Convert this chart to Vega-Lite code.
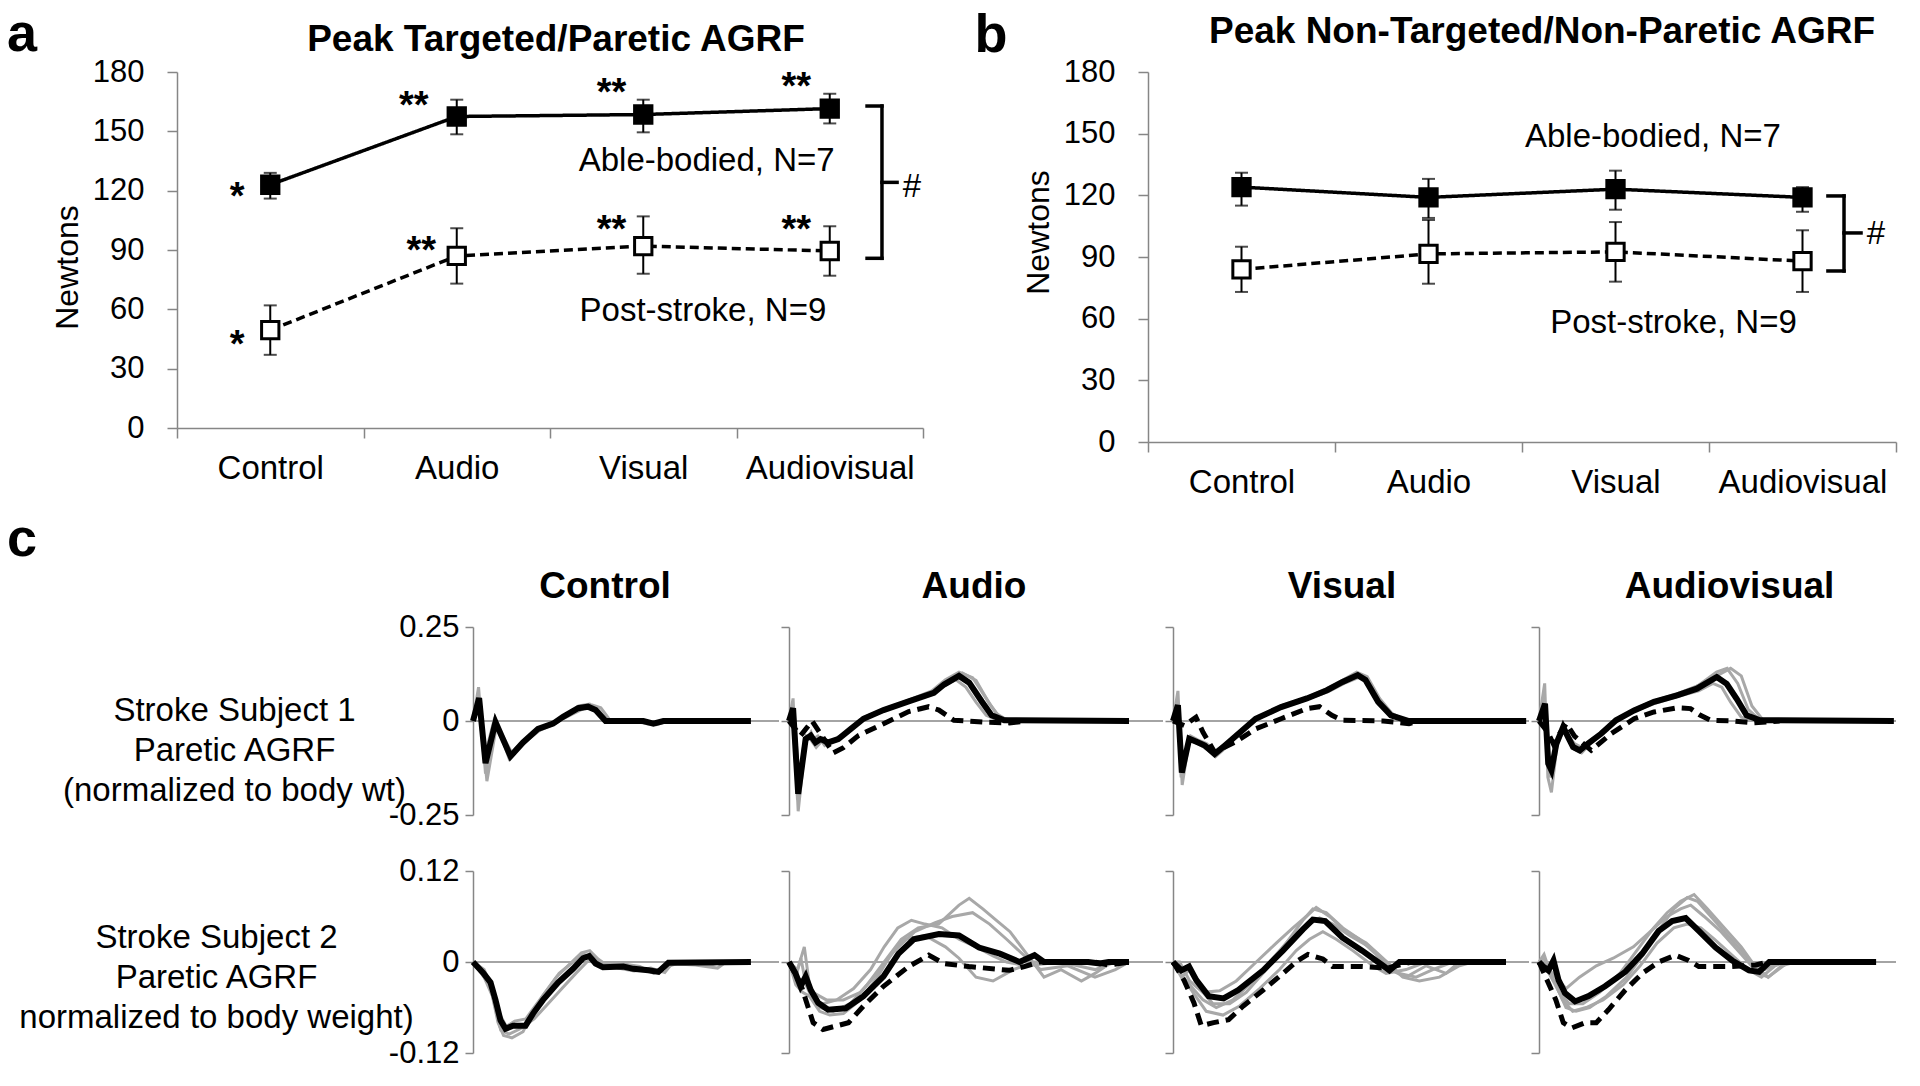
{
"$schema": "https://vega.github.io/schema/vega-lite/v6.json",
"background": "white",
"padding": {"left": 6, "top": 7, "right": 10, "bottom": 4},
"datasets": {
"peakA": [
{"cond":"Control","group":"Able-bodied","mean":123,"lo":116,"hi":129},
{"cond":"Audio","group":"Able-bodied","mean":157.5,"lo":148.5,"hi":166},
{"cond":"Visual","group":"Able-bodied","mean":158.5,"lo":149.5,"hi":166},
{"cond":"Audiovisual","group":"Able-bodied","mean":161.5,"lo":154,"hi":169},
{"cond":"Control","group":"Post-stroke","mean":49.5,"lo":37,"hi":62},
{"cond":"Audio","group":"Post-stroke","mean":87,"lo":73,"hi":101},
{"cond":"Visual","group":"Post-stroke","mean":92,"lo":78,"hi":107},
{"cond":"Audiovisual","group":"Post-stroke","mean":89.5,"lo":77,"hi":102}
],
"peakB": [
{"cond":"Control","group":"Able-bodied","mean":124,"lo":115,"hi":131},
{"cond":"Audio","group":"Able-bodied","mean":119,"lo":109,"hi":128},
{"cond":"Visual","group":"Able-bodied","mean":123,"lo":113,"hi":132},
{"cond":"Audiovisual","group":"Able-bodied","mean":119,"lo":112,"hi":124},
{"cond":"Control","group":"Post-stroke","mean":84,"lo":73,"hi":95},
{"cond":"Audio","group":"Post-stroke","mean":91.5,"lo":77,"hi":108},
{"cond":"Visual","group":"Post-stroke","mean":92.5,"lo":78,"hi":107},
{"cond":"Audiovisual","group":"Post-stroke","mean":88,"lo":73,"hi":103}
],
"annA": [
{"kind":"star","x":0.322,"y":110.5,"label":"*"},
{"kind":"star","x":0.322,"y":36.0,"label":"*"},
{"kind":"star","x":1.27,"y":156.5,"label":"**"},
{"kind":"star","x":2.33,"y":163.2,"label":"**"},
{"kind":"star","x":3.32,"y":166.4,"label":"**"},
{"kind":"star","x":1.31,"y":83.2,"label":"**"},
{"kind":"star","x":2.33,"y":94.1,"label":"**"},
{"kind":"star","x":3.32,"y":94.1,"label":"**"},
{"kind":"lab","x":2.84,"y":129.8,"label":"Able-bodied, N=7"},
{"kind":"lab","x":2.82,"y":54.1,"label":"Post-stroke, N=9"},
{"kind":"hash","x":3.941,"y":117,"label":"#"},
{"kind":"panel","x":-0.912,"y":190.7,"label":"a"},
{"kind":"title","x":2.032,"y":190.6,"label":"Peak Targeted/Paretic AGRF"},
{"kind":"br","x":3.78,"x2":3.78,"y":85.8,"y2":162.8},
{"kind":"br","x":3.70,"x2":3.78,"y":162.8,"y2":162.8},
{"kind":"br","x":3.70,"x2":3.78,"y":85.8,"y2":85.8},
{"kind":"br","x":3.78,"x2":3.861,"y":124.2,"y2":124.2}
],
"annB": [
{"kind":"lab","x":2.70,"y":143.6,"label":"Able-bodied, N=7"},
{"kind":"lab","x":2.81,"y":53.1,"label":"Post-stroke, N=9"},
{"kind":"hash","x":3.893,"y":96.5,"label":"#"},
{"kind":"panel","x":-0.928,"y":189.7,"label":"b"},
{"kind":"title","x":2.107,"y":194.2,"label":"Peak Non-Targeted/Non-Paretic AGRF"},
{"kind":"br","x":3.722,"x2":3.722,"y":83.2,"y2":119.7},
{"kind":"br","x":3.636,"x2":3.722,"y":119.7,"y2":119.7},
{"kind":"br","x":3.636,"x2":3.722,"y":83.2,"y2":83.2},
{"kind":"br","x":3.722,"x2":3.813,"y":101.7,"y2":101.7}
],
"traces": [
{"p":"1C","s":"m","t":0,"v":0},{"p":"1C","s":"m","t":2.2,"v":0.061},{"p":"1C","s":"m","t":4.5,"v":-0.112},{"p":"1C","s":"m","t":8.1,"v":-0.003},{"p":"1C","s":"m","t":13.5,"v":-0.094},{"p":"1C","s":"m","t":18,"v":-0.057},{"p":"1C","s":"m","t":23.4,"v":-0.021},{"p":"1C","s":"m","t":28.8,"v":-0.007},{"p":"1C","s":"m","t":32.4,"v":0.011},{"p":"1C","s":"m","t":37.8,"v":0.034},{"p":"1C","s":"m","t":41.4,"v":0.038},{"p":"1C","s":"m","t":44.1,"v":0.029},{"p":"1C","s":"m","t":47.7,"v":0},{"p":"1C","s":"m","t":61.3,"v":0},{"p":"1C","s":"m","t":64.9,"v":-0.007},{"p":"1C","s":"m","t":68.5,"v":0},{"p":"1C","s":"m","t":100,"v":0},
{"p":"1C","s":"g1","t":0,"v":0},{"p":"1C","s":"g1","t":2,"v":0.09},{"p":"1C","s":"g1","t":4.5,"v":-0.14},{"p":"1C","s":"g1","t":8,"v":0.005},{"p":"1C","s":"g1","t":13,"v":-0.1},{"p":"1C","s":"g1","t":18,"v":-0.06},{"p":"1C","s":"g1","t":24,"v":-0.025},{"p":"1C","s":"g1","t":30,"v":-0.005},{"p":"1C","s":"g1","t":34,"v":0.015},{"p":"1C","s":"g1","t":38,"v":0.04},{"p":"1C","s":"g1","t":42,"v":0.045},{"p":"1C","s":"g1","t":45,"v":0.03},{"p":"1C","s":"g1","t":48,"v":0.003},{"p":"1C","s":"g1","t":55,"v":0},{"p":"1C","s":"g1","t":62,"v":-0.005},{"p":"1C","s":"g1","t":66,"v":-0.01},{"p":"1C","s":"g1","t":70,"v":0},{"p":"1C","s":"g1","t":76,"v":0},
{"p":"1C","s":"g2","t":0,"v":0},{"p":"1C","s":"g2","t":2.5,"v":0.04},{"p":"1C","s":"g2","t":5,"v":-0.16},{"p":"1C","s":"g2","t":8.5,"v":-0.01},{"p":"1C","s":"g2","t":14,"v":-0.085},{"p":"1C","s":"g2","t":19,"v":-0.05},{"p":"1C","s":"g2","t":25,"v":-0.018},{"p":"1C","s":"g2","t":31,"v":0.002},{"p":"1C","s":"g2","t":36,"v":0.025},{"p":"1C","s":"g2","t":40,"v":0.035},{"p":"1C","s":"g2","t":43,"v":0.04},{"p":"1C","s":"g2","t":46,"v":0.02},{"p":"1C","s":"g2","t":49,"v":0},{"p":"1C","s":"g2","t":58,"v":0},{"p":"1C","s":"g2","t":63,"v":-0.008},{"p":"1C","s":"g2","t":68,"v":-0.004},{"p":"1C","s":"g2","t":73,"v":0},
{"p":"1C","s":"g3","t":0,"v":0},{"p":"1C","s":"g3","t":2,"v":0.05},{"p":"1C","s":"g3","t":4,"v":-0.1},{"p":"1C","s":"g3","t":7.5,"v":0},{"p":"1C","s":"g3","t":13,"v":-0.09},{"p":"1C","s":"g3","t":17,"v":-0.06},{"p":"1C","s":"g3","t":22,"v":-0.03},{"p":"1C","s":"g3","t":28,"v":-0.01},{"p":"1C","s":"g3","t":33,"v":0.008},{"p":"1C","s":"g3","t":39,"v":0.03},{"p":"1C","s":"g3","t":43,"v":0.042},{"p":"1C","s":"g3","t":46,"v":0.035},{"p":"1C","s":"g3","t":49,"v":0.005},{"p":"1C","s":"g3","t":57,"v":0},{"p":"1C","s":"g3","t":65,"v":-0.006},{"p":"1C","s":"g3","t":70,"v":0},{"p":"1C","s":"g3","t":75,"v":0},
{"p":"2C","s":"m","t":0,"v":0},{"p":"2C","s":"m","t":3.6,"v":-0.014},{"p":"2C","s":"m","t":6.3,"v":-0.027},{"p":"2C","s":"m","t":8.1,"v":-0.05},{"p":"2C","s":"m","t":9.9,"v":-0.077},{"p":"2C","s":"m","t":11.7,"v":-0.088},{"p":"2C","s":"m","t":14.4,"v":-0.084},{"p":"2C","s":"m","t":18.9,"v":-0.084},{"p":"2C","s":"m","t":21.6,"v":-0.068},{"p":"2C","s":"m","t":25.2,"v":-0.05},{"p":"2C","s":"m","t":30.6,"v":-0.027},{"p":"2C","s":"m","t":36,"v":-0.009},{"p":"2C","s":"m","t":39.6,"v":0.005},{"p":"2C","s":"m","t":41.8,"v":0.008},{"p":"2C","s":"m","t":44.1,"v":-0.002},{"p":"2C","s":"m","t":46.8,"v":-0.007},{"p":"2C","s":"m","t":54.1,"v":-0.006},{"p":"2C","s":"m","t":57.7,"v":-0.009},{"p":"2C","s":"m","t":63.1,"v":-0.011},{"p":"2C","s":"m","t":66.7,"v":-0.013},{"p":"2C","s":"m","t":70.3,"v":-0.001},{"p":"2C","s":"m","t":100,"v":0},
{"p":"2C","s":"g1","t":0,"v":0},{"p":"2C","s":"g1","t":4,"v":-0.02},{"p":"2C","s":"g1","t":7,"v":-0.045},{"p":"2C","s":"g1","t":9,"v":-0.08},{"p":"2C","s":"g1","t":11,"v":-0.097},{"p":"2C","s":"g1","t":14,"v":-0.1},{"p":"2C","s":"g1","t":18,"v":-0.092},{"p":"2C","s":"g1","t":21,"v":-0.07},{"p":"2C","s":"g1","t":25,"v":-0.045},{"p":"2C","s":"g1","t":30,"v":-0.02},{"p":"2C","s":"g1","t":35,"v":-0.002},{"p":"2C","s":"g1","t":39,"v":0.012},{"p":"2C","s":"g1","t":42,"v":0.015},{"p":"2C","s":"g1","t":45,"v":0.004},{"p":"2C","s":"g1","t":48,"v":-0.004},{"p":"2C","s":"g1","t":55,"v":-0.004},{"p":"2C","s":"g1","t":60,"v":-0.01},{"p":"2C","s":"g1","t":66,"v":-0.012},{"p":"2C","s":"g1","t":70,"v":-0.002},{"p":"2C","s":"g1","t":80,"v":-0.004},{"p":"2C","s":"g1","t":88,"v":-0.008},{"p":"2C","s":"g1","t":91,"v":0},
{"p":"2C","s":"g2","t":0,"v":0},{"p":"2C","s":"g2","t":4,"v":-0.01},{"p":"2C","s":"g2","t":7,"v":-0.035},{"p":"2C","s":"g2","t":9,"v":-0.065},{"p":"2C","s":"g2","t":12,"v":-0.085},{"p":"2C","s":"g2","t":15,"v":-0.078},{"p":"2C","s":"g2","t":19,"v":-0.075},{"p":"2C","s":"g2","t":22,"v":-0.06},{"p":"2C","s":"g2","t":26,"v":-0.04},{"p":"2C","s":"g2","t":31,"v":-0.015},{"p":"2C","s":"g2","t":36,"v":0},{"p":"2C","s":"g2","t":40,"v":0.01},{"p":"2C","s":"g2","t":43,"v":0.006},{"p":"2C","s":"g2","t":46,"v":-0.005},{"p":"2C","s":"g2","t":52,"v":-0.008},{"p":"2C","s":"g2","t":58,"v":-0.012},{"p":"2C","s":"g2","t":64,"v":-0.008},{"p":"2C","s":"g2","t":69,"v":-0.014},{"p":"2C","s":"g2","t":72,"v":0},{"p":"2C","s":"g2","t":85,"v":-0.005},{"p":"2C","s":"g2","t":89,"v":0},
{"p":"2C","s":"g3","t":0,"v":0},{"p":"2C","s":"g3","t":3,"v":-0.015},{"p":"2C","s":"g3","t":6,"v":-0.03},{"p":"2C","s":"g3","t":8,"v":-0.06},{"p":"2C","s":"g3","t":10,"v":-0.09},{"p":"2C","s":"g3","t":13,"v":-0.095},{"p":"2C","s":"g3","t":17,"v":-0.088},{"p":"2C","s":"g3","t":22,"v":-0.075},{"p":"2C","s":"g3","t":27,"v":-0.055},{"p":"2C","s":"g3","t":32,"v":-0.035},{"p":"2C","s":"g3","t":37,"v":-0.015},{"p":"2C","s":"g3","t":41,"v":0},{"p":"2C","s":"g3","t":44,"v":0.006},{"p":"2C","s":"g3","t":47,"v":-0.003},{"p":"2C","s":"g3","t":53,"v":-0.002},{"p":"2C","s":"g3","t":60,"v":-0.006},{"p":"2C","s":"g3","t":65,"v":-0.015},{"p":"2C","s":"g3","t":70,"v":-0.006},{"p":"2C","s":"g3","t":75,"v":0},
{"p":"1A","s":"m","t":0,"v":0},{"p":"1A","s":"m","t":1.2,"v":0.034},{"p":"1A","s":"m","t":2.7,"v":-0.194},{"p":"1A","s":"m","t":4.9,"v":-0.048},{"p":"1A","s":"m","t":6.4,"v":-0.039},{"p":"1A","s":"m","t":7.8,"v":-0.057},{"p":"1A","s":"m","t":9.3,"v":-0.048},{"p":"1A","s":"m","t":11.5,"v":-0.057},{"p":"1A","s":"m","t":14.5,"v":-0.048},{"p":"1A","s":"m","t":18.2,"v":-0.021},{"p":"1A","s":"m","t":21.9,"v":0.006},{"p":"1A","s":"m","t":27.8,"v":0.029},{"p":"1A","s":"m","t":35.2,"v":0.052},{"p":"1A","s":"m","t":42.6,"v":0.075},{"p":"1A","s":"m","t":45.6,"v":0.097},{"p":"1A","s":"m","t":50,"v":0.12},{"p":"1A","s":"m","t":53,"v":0.102},{"p":"1A","s":"m","t":56.7,"v":0.052},{"p":"1A","s":"m","t":59.6,"v":0.015},{"p":"1A","s":"m","t":63.3,"v":0.002},{"p":"1A","s":"m","t":100,"v":0},
{"p":"1A","s":"d","t":0,"v":0},{"p":"1A","s":"d","t":3.4,"v":-0.039},{"p":"1A","s":"d","t":6.8,"v":0},{"p":"1A","s":"d","t":13,"v":-0.085},{"p":"1A","s":"d","t":16,"v":-0.071},{"p":"1A","s":"d","t":20.4,"v":-0.039},{"p":"1A","s":"d","t":27.8,"v":-0.007},{"p":"1A","s":"d","t":35.2,"v":0.025},{"p":"1A","s":"d","t":41.1,"v":0.038},{"p":"1A","s":"d","t":44.1,"v":0.029},{"p":"1A","s":"d","t":48.5,"v":0.002},{"p":"1A","s":"d","t":57.4,"v":-0.003},{"p":"1A","s":"d","t":64.8,"v":-0.005},{"p":"1A","s":"d","t":70,"v":0},
{"p":"1A","s":"g1","t":0,"v":0},{"p":"1A","s":"g1","t":1.2,"v":0.06},{"p":"1A","s":"g1","t":2.7,"v":-0.24},{"p":"1A","s":"g1","t":4.8,"v":-0.06},{"p":"1A","s":"g1","t":6.5,"v":-0.03},{"p":"1A","s":"g1","t":8,"v":-0.06},{"p":"1A","s":"g1","t":10,"v":-0.045},{"p":"1A","s":"g1","t":12,"v":-0.06},{"p":"1A","s":"g1","t":15,"v":-0.045},{"p":"1A","s":"g1","t":18.5,"v":-0.018},{"p":"1A","s":"g1","t":22,"v":0.01},{"p":"1A","s":"g1","t":28,"v":0.032},{"p":"1A","s":"g1","t":35,"v":0.055},{"p":"1A","s":"g1","t":42,"v":0.08},{"p":"1A","s":"g1","t":46,"v":0.11},{"p":"1A","s":"g1","t":50,"v":0.13},{"p":"1A","s":"g1","t":54,"v":0.115},{"p":"1A","s":"g1","t":58,"v":0.06},{"p":"1A","s":"g1","t":61,"v":0.02},{"p":"1A","s":"g1","t":64,"v":0.003},{"p":"1A","s":"g1","t":70,"v":0},
{"p":"1A","s":"g2","t":0,"v":0},{"p":"1A","s":"g2","t":1.5,"v":0.02},{"p":"1A","s":"g2","t":3,"v":-0.16},{"p":"1A","s":"g2","t":5,"v":-0.04},{"p":"1A","s":"g2","t":6.8,"v":-0.05},{"p":"1A","s":"g2","t":8.5,"v":-0.04},{"p":"1A","s":"g2","t":10.5,"v":-0.065},{"p":"1A","s":"g2","t":13,"v":-0.05},{"p":"1A","s":"g2","t":17,"v":-0.03},{"p":"1A","s":"g2","t":21,"v":0},{"p":"1A","s":"g2","t":27,"v":0.025},{"p":"1A","s":"g2","t":34,"v":0.048},{"p":"1A","s":"g2","t":41,"v":0.07},{"p":"1A","s":"g2","t":45,"v":0.09},{"p":"1A","s":"g2","t":49,"v":0.11},{"p":"1A","s":"g2","t":52,"v":0.09},{"p":"1A","s":"g2","t":55,"v":0.05},{"p":"1A","s":"g2","t":58,"v":0.015},{"p":"1A","s":"g2","t":62,"v":0},{"p":"1A","s":"g2","t":70,"v":0},
{"p":"1A","s":"g3","t":0,"v":0},{"p":"1A","s":"g3","t":1,"v":0.04},{"p":"1A","s":"g3","t":2.5,"v":-0.21},{"p":"1A","s":"g3","t":4.5,"v":-0.05},{"p":"1A","s":"g3","t":6,"v":-0.045},{"p":"1A","s":"g3","t":8,"v":-0.07},{"p":"1A","s":"g3","t":10,"v":-0.05},{"p":"1A","s":"g3","t":12,"v":-0.055},{"p":"1A","s":"g3","t":15.5,"v":-0.04},{"p":"1A","s":"g3","t":19,"v":-0.012},{"p":"1A","s":"g3","t":23,"v":0.012},{"p":"1A","s":"g3","t":29,"v":0.034},{"p":"1A","s":"g3","t":36,"v":0.058},{"p":"1A","s":"g3","t":43,"v":0.078},{"p":"1A","s":"g3","t":47,"v":0.105},{"p":"1A","s":"g3","t":51,"v":0.128},{"p":"1A","s":"g3","t":55,"v":0.108},{"p":"1A","s":"g3","t":59,"v":0.045},{"p":"1A","s":"g3","t":62,"v":0.01},{"p":"1A","s":"g3","t":66,"v":0},{"p":"1A","s":"g3","t":72,"v":0},
{"p":"1V","s":"m","t":0,"v":0},{"p":"1V","s":"m","t":1.4,"v":0.042},{"p":"1V","s":"m","t":2.5,"v":-0.137},{"p":"1V","s":"m","t":4.6,"v":-0.047},{"p":"1V","s":"m","t":6.8,"v":-0.056},{"p":"1V","s":"m","t":9,"v":-0.065},{"p":"1V","s":"m","t":11.8,"v":-0.088},{"p":"1V","s":"m","t":14.7,"v":-0.065},{"p":"1V","s":"m","t":19.1,"v":-0.029},{"p":"1V","s":"m","t":23.4,"v":0.006},{"p":"1V","s":"m","t":30.6,"v":0.037},{"p":"1V","s":"m","t":37.9,"v":0.06},{"p":"1V","s":"m","t":43.6,"v":0.082},{"p":"1V","s":"m","t":48,"v":0.104},{"p":"1V","s":"m","t":52.3,"v":0.122},{"p":"1V","s":"m","t":54.5,"v":0.109},{"p":"1V","s":"m","t":58.1,"v":0.051},{"p":"1V","s":"m","t":61.7,"v":0.015},{"p":"1V","s":"m","t":66.8,"v":0},{"p":"1V","s":"m","t":100,"v":0},
{"p":"1V","s":"d","t":0,"v":0},{"p":"1V","s":"d","t":3.2,"v":-0.012},{"p":"1V","s":"d","t":6.5,"v":0.01},{"p":"1V","s":"d","t":8.5,"v":-0.03},{"p":"1V","s":"d","t":11.8,"v":-0.083},{"p":"1V","s":"d","t":17.6,"v":-0.056},{"p":"1V","s":"d","t":23.4,"v":-0.021},{"p":"1V","s":"d","t":30.6,"v":0.006},{"p":"1V","s":"d","t":37.9,"v":0.033},{"p":"1V","s":"d","t":41.5,"v":0.038},{"p":"1V","s":"d","t":45,"v":0.015},{"p":"1V","s":"d","t":48,"v":0.002},{"p":"1V","s":"d","t":59.5,"v":0},{"p":"1V","s":"d","t":66.8,"v":-0.007},{"p":"1V","s":"d","t":69.7,"v":0},{"p":"1V","s":"d","t":100,"v":0},
{"p":"1V","s":"g1","t":0,"v":0},{"p":"1V","s":"g1","t":1.4,"v":0.08},{"p":"1V","s":"g1","t":2.6,"v":-0.17},{"p":"1V","s":"g1","t":4.6,"v":-0.05},{"p":"1V","s":"g1","t":7,"v":-0.06},{"p":"1V","s":"g1","t":9,"v":-0.07},{"p":"1V","s":"g1","t":12,"v":-0.095},{"p":"1V","s":"g1","t":15,"v":-0.07},{"p":"1V","s":"g1","t":19,"v":-0.03},{"p":"1V","s":"g1","t":23.5,"v":0.008},{"p":"1V","s":"g1","t":30.5,"v":0.04},{"p":"1V","s":"g1","t":38,"v":0.063},{"p":"1V","s":"g1","t":43.5,"v":0.086},{"p":"1V","s":"g1","t":48,"v":0.108},{"p":"1V","s":"g1","t":52,"v":0.13},{"p":"1V","s":"g1","t":55,"v":0.118},{"p":"1V","s":"g1","t":58.5,"v":0.06},{"p":"1V","s":"g1","t":62,"v":0.02},{"p":"1V","s":"g1","t":66,"v":0.002},{"p":"1V","s":"g1","t":72,"v":0},
{"p":"1V","s":"g2","t":0,"v":0},{"p":"1V","s":"g2","t":1.6,"v":0.03},{"p":"1V","s":"g2","t":2.8,"v":-0.12},{"p":"1V","s":"g2","t":5,"v":-0.04},{"p":"1V","s":"g2","t":7,"v":-0.05},{"p":"1V","s":"g2","t":9.5,"v":-0.06},{"p":"1V","s":"g2","t":12,"v":-0.08},{"p":"1V","s":"g2","t":15,"v":-0.06},{"p":"1V","s":"g2","t":19.5,"v":-0.025},{"p":"1V","s":"g2","t":24,"v":0.01},{"p":"1V","s":"g2","t":31,"v":0.04},{"p":"1V","s":"g2","t":38,"v":0.058},{"p":"1V","s":"g2","t":44,"v":0.078},{"p":"1V","s":"g2","t":48.5,"v":0.1},{"p":"1V","s":"g2","t":52.8,"v":0.117},{"p":"1V","s":"g2","t":55.5,"v":0.1},{"p":"1V","s":"g2","t":59,"v":0.04},{"p":"1V","s":"g2","t":62.5,"v":0.01},{"p":"1V","s":"g2","t":67,"v":0},
{"p":"1V","s":"g3","t":0,"v":0},{"p":"1V","s":"g3","t":1.2,"v":0.05},{"p":"1V","s":"g3","t":2.3,"v":-0.15},{"p":"1V","s":"g3","t":4.4,"v":-0.055},{"p":"1V","s":"g3","t":6.5,"v":-0.05},{"p":"1V","s":"g3","t":9,"v":-0.072},{"p":"1V","s":"g3","t":11.5,"v":-0.085},{"p":"1V","s":"g3","t":14.5,"v":-0.068},{"p":"1V","s":"g3","t":19,"v":-0.032},{"p":"1V","s":"g3","t":23,"v":0.004},{"p":"1V","s":"g3","t":30,"v":0.035},{"p":"1V","s":"g3","t":37.5,"v":0.058},{"p":"1V","s":"g3","t":43,"v":0.08},{"p":"1V","s":"g3","t":47.5,"v":0.1},{"p":"1V","s":"g3","t":51.8,"v":0.125},{"p":"1V","s":"g3","t":54,"v":0.113},{"p":"1V","s":"g3","t":57.5,"v":0.07},{"p":"1V","s":"g3","t":61,"v":0.025},{"p":"1V","s":"g3","t":65,"v":0.004},{"p":"1V","s":"g3","t":70,"v":0},
{"p":"1AV","s":"m","t":0,"v":0},{"p":"1AV","s":"m","t":1.7,"v":0.046},{"p":"1AV","s":"m","t":2.6,"v":-0.113},{"p":"1AV","s":"m","t":3.5,"v":-0.131},{"p":"1AV","s":"m","t":4.9,"v":-0.06},{"p":"1AV","s":"m","t":6.8,"v":-0.016},{"p":"1AV","s":"m","t":8.2,"v":-0.043},{"p":"1AV","s":"m","t":9.6,"v":-0.069},{"p":"1AV","s":"m","t":11.5,"v":-0.078},{"p":"1AV","s":"m","t":13.8,"v":-0.06},{"p":"1AV","s":"m","t":17.5,"v":-0.034},{"p":"1AV","s":"m","t":21.7,"v":0.002},{"p":"1AV","s":"m","t":26.8,"v":0.028},{"p":"1AV","s":"m","t":32.4,"v":0.051},{"p":"1AV","s":"m","t":38.9,"v":0.068},{"p":"1AV","s":"m","t":44.5,"v":0.086},{"p":"1AV","s":"m","t":50.1,"v":0.117},{"p":"1AV","s":"m","t":52.9,"v":0.099},{"p":"1AV","s":"m","t":55.7,"v":0.059},{"p":"1AV","s":"m","t":58.5,"v":0.015},{"p":"1AV","s":"m","t":62.3,"v":0.002},{"p":"1AV","s":"m","t":100,"v":0},
{"p":"1AV","s":"d","t":0,"v":0},{"p":"1AV","s":"d","t":2.5,"v":-0.03},{"p":"1AV","s":"d","t":4,"v":-0.06},{"p":"1AV","s":"d","t":7.7,"v":-0.007},{"p":"1AV","s":"d","t":10,"v":-0.04},{"p":"1AV","s":"d","t":14.7,"v":-0.078},{"p":"1AV","s":"d","t":20.3,"v":-0.034},{"p":"1AV","s":"d","t":26.8,"v":0.006},{"p":"1AV","s":"d","t":32.4,"v":0.024},{"p":"1AV","s":"d","t":38.9,"v":0.035},{"p":"1AV","s":"d","t":42.7,"v":0.033},{"p":"1AV","s":"d","t":45.5,"v":0.015},{"p":"1AV","s":"d","t":48.3,"v":0.002},{"p":"1AV","s":"d","t":54.8,"v":0},{"p":"1AV","s":"d","t":60.4,"v":-0.005},{"p":"1AV","s":"d","t":67.8,"v":0},
{"p":"1AV","s":"g1","t":0,"v":0},{"p":"1AV","s":"g1","t":1.6,"v":0.1},{"p":"1AV","s":"g1","t":2.5,"v":-0.15},{"p":"1AV","s":"g1","t":3.5,"v":-0.19},{"p":"1AV","s":"g1","t":5,"v":-0.07},{"p":"1AV","s":"g1","t":7,"v":-0.02},{"p":"1AV","s":"g1","t":8.5,"v":-0.05},{"p":"1AV","s":"g1","t":10,"v":-0.075},{"p":"1AV","s":"g1","t":12,"v":-0.085},{"p":"1AV","s":"g1","t":14,"v":-0.065},{"p":"1AV","s":"g1","t":18,"v":-0.03},{"p":"1AV","s":"g1","t":22,"v":0.005},{"p":"1AV","s":"g1","t":27,"v":0.03},{"p":"1AV","s":"g1","t":33,"v":0.055},{"p":"1AV","s":"g1","t":39,"v":0.073},{"p":"1AV","s":"g1","t":45,"v":0.095},{"p":"1AV","s":"g1","t":50,"v":0.13},{"p":"1AV","s":"g1","t":53,"v":0.14},{"p":"1AV","s":"g1","t":56,"v":0.1},{"p":"1AV","s":"g1","t":59,"v":0.03},{"p":"1AV","s":"g1","t":62,"v":0.005},{"p":"1AV","s":"g1","t":68,"v":0},
{"p":"1AV","s":"g2","t":0,"v":0},{"p":"1AV","s":"g2","t":1.8,"v":0.03},{"p":"1AV","s":"g2","t":2.7,"v":-0.09},{"p":"1AV","s":"g2","t":3.6,"v":-0.11},{"p":"1AV","s":"g2","t":5,"v":-0.05},{"p":"1AV","s":"g2","t":7,"v":-0.012},{"p":"1AV","s":"g2","t":8.4,"v":-0.04},{"p":"1AV","s":"g2","t":10,"v":-0.06},{"p":"1AV","s":"g2","t":12,"v":-0.07},{"p":"1AV","s":"g2","t":14,"v":-0.055},{"p":"1AV","s":"g2","t":17.5,"v":-0.03},{"p":"1AV","s":"g2","t":22,"v":0.004},{"p":"1AV","s":"g2","t":27,"v":0.026},{"p":"1AV","s":"g2","t":33,"v":0.048},{"p":"1AV","s":"g2","t":39,"v":0.065},{"p":"1AV","s":"g2","t":45,"v":0.08},{"p":"1AV","s":"g2","t":49,"v":0.1},{"p":"1AV","s":"g2","t":51.5,"v":0.09},{"p":"1AV","s":"g2","t":54,"v":0.05},{"p":"1AV","s":"g2","t":57,"v":0.01},{"p":"1AV","s":"g2","t":61,"v":0},
{"p":"1AV","s":"g3","t":0,"v":0},{"p":"1AV","s":"g3","t":1.5,"v":0.06},{"p":"1AV","s":"g3","t":2.4,"v":-0.12},{"p":"1AV","s":"g3","t":3.3,"v":-0.15},{"p":"1AV","s":"g3","t":4.8,"v":-0.065},{"p":"1AV","s":"g3","t":6.6,"v":-0.02},{"p":"1AV","s":"g3","t":8,"v":-0.045},{"p":"1AV","s":"g3","t":9.5,"v":-0.072},{"p":"1AV","s":"g3","t":11.3,"v":-0.082},{"p":"1AV","s":"g3","t":13.5,"v":-0.062},{"p":"1AV","s":"g3","t":17,"v":-0.036},{"p":"1AV","s":"g3","t":21.5,"v":0},{"p":"1AV","s":"g3","t":26.5,"v":0.03},{"p":"1AV","s":"g3","t":32,"v":0.053},{"p":"1AV","s":"g3","t":38.5,"v":0.07},{"p":"1AV","s":"g3","t":44,"v":0.09},{"p":"1AV","s":"g3","t":50,"v":0.12},{"p":"1AV","s":"g3","t":54,"v":0.14},{"p":"1AV","s":"g3","t":57,"v":0.12},{"p":"1AV","s":"g3","t":60,"v":0.04},{"p":"1AV","s":"g3","t":63,"v":0.004},{"p":"1AV","s":"g3","t":70,"v":0},
{"p":"2A","s":"m","t":0,"v":0},{"p":"2A","s":"m","t":1.9,"v":-0.015},{"p":"2A","s":"m","t":3.4,"v":-0.032},{"p":"2A","s":"m","t":4.9,"v":-0.019},{"p":"2A","s":"m","t":6.4,"v":-0.037},{"p":"2A","s":"m","t":8.6,"v":-0.054},{"p":"2A","s":"m","t":11.5,"v":-0.063},{"p":"2A","s":"m","t":16.7,"v":-0.061},{"p":"2A","s":"m","t":21.9,"v":-0.045},{"p":"2A","s":"m","t":27.8,"v":-0.019},{"p":"2A","s":"m","t":32.2,"v":0.011},{"p":"2A","s":"m","t":36.7,"v":0.03},{"p":"2A","s":"m","t":44.1,"v":0.037},{"p":"2A","s":"m","t":50,"v":0.035},{"p":"2A","s":"m","t":55.9,"v":0.019},{"p":"2A","s":"m","t":62,"v":0.011},{"p":"2A","s":"m","t":67.8,"v":0},{"p":"2A","s":"m","t":72.2,"v":0.009},{"p":"2A","s":"m","t":75,"v":0},{"p":"2A","s":"m","t":88,"v":0},{"p":"2A","s":"m","t":91.4,"v":-0.002},{"p":"2A","s":"m","t":94,"v":0},{"p":"2A","s":"m","t":100,"v":0},
{"p":"2A","s":"d","t":0,"v":0},{"p":"2A","s":"d","t":3.5,"v":-0.03},{"p":"2A","s":"d","t":7.1,"v":-0.08},{"p":"2A","s":"d","t":10,"v":-0.089},{"p":"2A","s":"d","t":17.5,"v":-0.08},{"p":"2A","s":"d","t":21.9,"v":-0.058},{"p":"2A","s":"d","t":27.8,"v":-0.032},{"p":"2A","s":"d","t":35.2,"v":-0.006},{"p":"2A","s":"d","t":41.1,"v":0.009},{"p":"2A","s":"d","t":45.6,"v":-0.002},{"p":"2A","s":"d","t":52.9,"v":-0.006},{"p":"2A","s":"d","t":64.8,"v":-0.011},{"p":"2A","s":"d","t":69.2,"v":-0.006},{"p":"2A","s":"d","t":73.7,"v":0},{"p":"2A","s":"d","t":90,"v":0},{"p":"2A","s":"d","t":94,"v":-0.004},{"p":"2A","s":"d","t":100,"v":0},
{"p":"2A","s":"g1","t":0,"v":0},{"p":"2A","s":"g1","t":2,"v":-0.02},{"p":"2A","s":"g1","t":3.5,"v":0.005},{"p":"2A","s":"g1","t":5,"v":-0.03},{"p":"2A","s":"g1","t":7,"v":-0.05},{"p":"2A","s":"g1","t":10,"v":-0.055},{"p":"2A","s":"g1","t":14,"v":-0.05},{"p":"2A","s":"g1","t":19,"v":-0.035},{"p":"2A","s":"g1","t":24,"v":-0.01},{"p":"2A","s":"g1","t":28,"v":0.02},{"p":"2A","s":"g1","t":32,"v":0.045},{"p":"2A","s":"g1","t":36,"v":0.055},{"p":"2A","s":"g1","t":40,"v":0.05},{"p":"2A","s":"g1","t":45,"v":0.045},{"p":"2A","s":"g1","t":50,"v":0.03},{"p":"2A","s":"g1","t":55,"v":0.02},{"p":"2A","s":"g1","t":60,"v":0.008},{"p":"2A","s":"g1","t":64,"v":0},{"p":"2A","s":"g1","t":70,"v":-0.005},{"p":"2A","s":"g1","t":80,"v":0},{"p":"2A","s":"g1","t":90,"v":-0.01},{"p":"2A","s":"g1","t":96,"v":0},
{"p":"2A","s":"g2","t":0,"v":0},{"p":"2A","s":"g2","t":2.5,"v":-0.01},{"p":"2A","s":"g2","t":4.5,"v":0.02},{"p":"2A","s":"g2","t":6,"v":-0.03},{"p":"2A","s":"g2","t":9,"v":-0.06},{"p":"2A","s":"g2","t":13,"v":-0.065},{"p":"2A","s":"g2","t":18,"v":-0.055},{"p":"2A","s":"g2","t":23,"v":-0.03},{"p":"2A","s":"g2","t":28,"v":0},{"p":"2A","s":"g2","t":33,"v":0.03},{"p":"2A","s":"g2","t":38,"v":0.045},{"p":"2A","s":"g2","t":44,"v":0.05},{"p":"2A","s":"g2","t":50,"v":0.075},{"p":"2A","s":"g2","t":53,"v":0.084},{"p":"2A","s":"g2","t":57,"v":0.07},{"p":"2A","s":"g2","t":61,"v":0.055},{"p":"2A","s":"g2","t":65,"v":0.04},{"p":"2A","s":"g2","t":70,"v":0.01},{"p":"2A","s":"g2","t":75,"v":-0.02},{"p":"2A","s":"g2","t":80,"v":-0.01},{"p":"2A","s":"g2","t":86,"v":-0.025},{"p":"2A","s":"g2","t":90,"v":-0.015},{"p":"2A","s":"g2","t":95,"v":0},
{"p":"2A","s":"g3","t":0,"v":0},{"p":"2A","s":"g3","t":2,"v":-0.03},{"p":"2A","s":"g3","t":4,"v":-0.04},{"p":"2A","s":"g3","t":6,"v":-0.045},{"p":"2A","s":"g3","t":9,"v":-0.065},{"p":"2A","s":"g3","t":12,"v":-0.07},{"p":"2A","s":"g3","t":16,"v":-0.068},{"p":"2A","s":"g3","t":21,"v":-0.05},{"p":"2A","s":"g3","t":26,"v":-0.02},{"p":"2A","s":"g3","t":30,"v":0.01},{"p":"2A","s":"g3","t":34,"v":0.03},{"p":"2A","s":"g3","t":40,"v":0.035},{"p":"2A","s":"g3","t":46,"v":0.02},{"p":"2A","s":"g3","t":50,"v":0.005},{"p":"2A","s":"g3","t":55,"v":-0.02},{"p":"2A","s":"g3","t":60,"v":-0.025},{"p":"2A","s":"g3","t":66,"v":-0.01},{"p":"2A","s":"g3","t":72,"v":0},{"p":"2A","s":"g3","t":80,"v":0},
{"p":"2A","s":"g4","t":0,"v":0},{"p":"2A","s":"g4","t":2,"v":-0.02},{"p":"2A","s":"g4","t":4,"v":-0.025},{"p":"2A","s":"g4","t":7,"v":-0.04},{"p":"2A","s":"g4","t":11,"v":-0.05},{"p":"2A","s":"g4","t":16,"v":-0.05},{"p":"2A","s":"g4","t":21,"v":-0.04},{"p":"2A","s":"g4","t":26,"v":-0.015},{"p":"2A","s":"g4","t":31,"v":0.015},{"p":"2A","s":"g4","t":37,"v":0.04},{"p":"2A","s":"g4","t":43,"v":0.052},{"p":"2A","s":"g4","t":48,"v":0.06},{"p":"2A","s":"g4","t":54,"v":0.065},{"p":"2A","s":"g4","t":59,"v":0.05},{"p":"2A","s":"g4","t":64,"v":0.03},{"p":"2A","s":"g4","t":70,"v":0.005},{"p":"2A","s":"g4","t":74,"v":-0.01},{"p":"2A","s":"g4","t":82,"v":-0.005},{"p":"2A","s":"g4","t":90,"v":-0.02},{"p":"2A","s":"g4","t":96,"v":-0.01},{"p":"2A","s":"g4","t":100,"v":0},
{"p":"2V","s":"m","t":0,"v":0},{"p":"2V","s":"m","t":2.5,"v":-0.011},{"p":"2V","s":"m","t":4.8,"v":-0.006},{"p":"2V","s":"m","t":7,"v":-0.024},{"p":"2V","s":"m","t":10.7,"v":-0.045},{"p":"2V","s":"m","t":15.2,"v":-0.048},{"p":"2V","s":"m","t":19.6,"v":-0.037},{"p":"2V","s":"m","t":27.1,"v":-0.011},{"p":"2V","s":"m","t":33,"v":0.015},{"p":"2V","s":"m","t":39,"v":0.043},{"p":"2V","s":"m","t":42,"v":0.056},{"p":"2V","s":"m","t":45.7,"v":0.054},{"p":"2V","s":"m","t":50.9,"v":0.032},{"p":"2V","s":"m","t":56.8,"v":0.015},{"p":"2V","s":"m","t":62.8,"v":-0.004},{"p":"2V","s":"m","t":65,"v":-0.011},{"p":"2V","s":"m","t":68,"v":0},{"p":"2V","s":"m","t":100,"v":0},
{"p":"2V","s":"d","t":0,"v":0},{"p":"2V","s":"d","t":3.3,"v":-0.024},{"p":"2V","s":"d","t":6.3,"v":-0.054},{"p":"2V","s":"d","t":8.5,"v":-0.084},{"p":"2V","s":"d","t":12.2,"v":-0.08},{"p":"2V","s":"d","t":16.7,"v":-0.076},{"p":"2V","s":"d","t":21.1,"v":-0.058},{"p":"2V","s":"d","t":27.1,"v":-0.037},{"p":"2V","s":"d","t":33,"v":-0.015},{"p":"2V","s":"d","t":37.5,"v":0.002},{"p":"2V","s":"d","t":40.5,"v":0.01},{"p":"2V","s":"d","t":45,"v":0.004},{"p":"2V","s":"d","t":47.9,"v":-0.006},{"p":"2V","s":"d","t":56.8,"v":-0.006},{"p":"2V","s":"d","t":64.3,"v":-0.008},{"p":"2V","s":"d","t":71.7,"v":0},{"p":"2V","s":"d","t":100,"v":0},
{"p":"2V","s":"g1","t":0,"v":0},{"p":"2V","s":"g1","t":2.5,"v":-0.02},{"p":"2V","s":"g1","t":5,"v":-0.01},{"p":"2V","s":"g1","t":8,"v":-0.035},{"p":"2V","s":"g1","t":12,"v":-0.055},{"p":"2V","s":"g1","t":17,"v":-0.055},{"p":"2V","s":"g1","t":22,"v":-0.04},{"p":"2V","s":"g1","t":28,"v":-0.01},{"p":"2V","s":"g1","t":34,"v":0.025},{"p":"2V","s":"g1","t":39,"v":0.055},{"p":"2V","s":"g1","t":42,"v":0.07},{"p":"2V","s":"g1","t":46,"v":0.065},{"p":"2V","s":"g1","t":51,"v":0.045},{"p":"2V","s":"g1","t":56,"v":0.03},{"p":"2V","s":"g1","t":61,"v":0.01},{"p":"2V","s":"g1","t":65,"v":-0.01},{"p":"2V","s":"g1","t":70,"v":-0.02},{"p":"2V","s":"g1","t":76,"v":-0.005},{"p":"2V","s":"g1","t":82,"v":-0.015},{"p":"2V","s":"g1","t":86,"v":0},
{"p":"2V","s":"g2","t":0,"v":0},{"p":"2V","s":"g2","t":2,"v":0},{"p":"2V","s":"g2","t":5,"v":-0.025},{"p":"2V","s":"g2","t":9,"v":-0.04},{"p":"2V","s":"g2","t":14,"v":-0.038},{"p":"2V","s":"g2","t":19,"v":-0.025},{"p":"2V","s":"g2","t":25,"v":0},{"p":"2V","s":"g2","t":31,"v":0.025},{"p":"2V","s":"g2","t":36,"v":0.045},{"p":"2V","s":"g2","t":40,"v":0.06},{"p":"2V","s":"g2","t":43,"v":0.072},{"p":"2V","s":"g2","t":47,"v":0.06},{"p":"2V","s":"g2","t":52,"v":0.04},{"p":"2V","s":"g2","t":58,"v":0.025},{"p":"2V","s":"g2","t":63,"v":0.005},{"p":"2V","s":"g2","t":68,"v":-0.015},{"p":"2V","s":"g2","t":73,"v":-0.02},{"p":"2V","s":"g2","t":78,"v":-0.01},{"p":"2V","s":"g2","t":84,"v":0},
{"p":"2V","s":"g3","t":0,"v":0},{"p":"2V","s":"g3","t":3,"v":-0.02},{"p":"2V","s":"g3","t":6,"v":-0.04},{"p":"2V","s":"g3","t":10,"v":-0.065},{"p":"2V","s":"g3","t":15,"v":-0.07},{"p":"2V","s":"g3","t":20,"v":-0.058},{"p":"2V","s":"g3","t":26,"v":-0.035},{"p":"2V","s":"g3","t":32,"v":-0.01},{"p":"2V","s":"g3","t":37,"v":0.015},{"p":"2V","s":"g3","t":41,"v":0.03},{"p":"2V","s":"g3","t":45,"v":0.04},{"p":"2V","s":"g3","t":49,"v":0.03},{"p":"2V","s":"g3","t":54,"v":0.015},{"p":"2V","s":"g3","t":60,"v":-0.005},{"p":"2V","s":"g3","t":64,"v":-0.015},{"p":"2V","s":"g3","t":70,"v":-0.01},{"p":"2V","s":"g3","t":76,"v":0},
{"p":"2V","s":"g4","t":0,"v":0},{"p":"2V","s":"g4","t":2,"v":-0.015},{"p":"2V","s":"g4","t":5,"v":-0.03},{"p":"2V","s":"g4","t":9,"v":-0.05},{"p":"2V","s":"g4","t":13,"v":-0.06},{"p":"2V","s":"g4","t":18,"v":-0.05},{"p":"2V","s":"g4","t":24,"v":-0.025},{"p":"2V","s":"g4","t":30,"v":0.005},{"p":"2V","s":"g4","t":36,"v":0.035},{"p":"2V","s":"g4","t":41,"v":0.05},{"p":"2V","s":"g4","t":44,"v":0.058},{"p":"2V","s":"g4","t":48,"v":0.05},{"p":"2V","s":"g4","t":53,"v":0.035},{"p":"2V","s":"g4","t":59,"v":0.02},{"p":"2V","s":"g4","t":64,"v":0},{"p":"2V","s":"g4","t":69,"v":-0.02},{"p":"2V","s":"g4","t":74,"v":-0.025},{"p":"2V","s":"g4","t":80,"v":-0.02},{"p":"2V","s":"g4","t":86,"v":-0.005},{"p":"2V","s":"g4","t":90,"v":0},
{"p":"2AV","s":"m","t":0,"v":0},{"p":"2AV","s":"m","t":1.3,"v":-0.006},{"p":"2AV","s":"m","t":2.8,"v":-0.011},{"p":"2AV","s":"m","t":4.3,"v":0.002},{"p":"2AV","s":"m","t":5.8,"v":-0.024},{"p":"2AV","s":"m","t":7.7,"v":-0.041},{"p":"2AV","s":"m","t":10.7,"v":-0.052},{"p":"2AV","s":"m","t":14.7,"v":-0.045},{"p":"2AV","s":"m","t":19.6,"v":-0.032},{"p":"2AV","s":"m","t":25.6,"v":-0.013},{"p":"2AV","s":"m","t":30.6,"v":0.011},{"p":"2AV","s":"m","t":35.5,"v":0.041},{"p":"2AV","s":"m","t":39.5,"v":0.054},{"p":"2AV","s":"m","t":43.5,"v":0.058},{"p":"2AV","s":"m","t":47.4,"v":0.041},{"p":"2AV","s":"m","t":52.4,"v":0.019},{"p":"2AV","s":"m","t":57.3,"v":0.002},{"p":"2AV","s":"m","t":62.3,"v":-0.011},{"p":"2AV","s":"m","t":65.3,"v":-0.013},{"p":"2AV","s":"m","t":68.3,"v":0},{"p":"2AV","s":"m","t":100,"v":0},
{"p":"2AV","s":"d","t":0,"v":0},{"p":"2AV","s":"d","t":2.8,"v":-0.028},{"p":"2AV","s":"d","t":5,"v":-0.05},{"p":"2AV","s":"d","t":7.2,"v":-0.08},{"p":"2AV","s":"d","t":9.7,"v":-0.087},{"p":"2AV","s":"d","t":13.7,"v":-0.08},{"p":"2AV","s":"d","t":17,"v":-0.08},{"p":"2AV","s":"d","t":20.6,"v":-0.063},{"p":"2AV","s":"d","t":25.6,"v":-0.037},{"p":"2AV","s":"d","t":30.6,"v":-0.015},{"p":"2AV","s":"d","t":35.5,"v":0},{"p":"2AV","s":"d","t":40.5,"v":0.009},{"p":"2AV","s":"d","t":44.4,"v":0.002},{"p":"2AV","s":"d","t":47.4,"v":-0.006},{"p":"2AV","s":"d","t":57.3,"v":-0.006},{"p":"2AV","s":"d","t":64.3,"v":-0.004},{"p":"2AV","s":"d","t":68,"v":0},
{"p":"2AV","s":"g1","t":0,"v":0},{"p":"2AV","s":"g1","t":1.5,"v":0.005},{"p":"2AV","s":"g1","t":3,"v":-0.01},{"p":"2AV","s":"g1","t":5,"v":-0.03},{"p":"2AV","s":"g1","t":8,"v":-0.06},{"p":"2AV","s":"g1","t":11,"v":-0.065},{"p":"2AV","s":"g1","t":15,"v":-0.06},{"p":"2AV","s":"g1","t":20,"v":-0.045},{"p":"2AV","s":"g1","t":26,"v":-0.02},{"p":"2AV","s":"g1","t":31,"v":0.01},{"p":"2AV","s":"g1","t":36,"v":0.045},{"p":"2AV","s":"g1","t":40,"v":0.07},{"p":"2AV","s":"g1","t":44,"v":0.085},{"p":"2AV","s":"g1","t":47,"v":0.08},{"p":"2AV","s":"g1","t":51,"v":0.06},{"p":"2AV","s":"g1","t":56,"v":0.035},{"p":"2AV","s":"g1","t":61,"v":0.01},{"p":"2AV","s":"g1","t":65,"v":-0.015},{"p":"2AV","s":"g1","t":68,"v":-0.02},{"p":"2AV","s":"g1","t":71,"v":-0.01},{"p":"2AV","s":"g1","t":74,"v":0},
{"p":"2AV","s":"g2","t":0,"v":0},{"p":"2AV","s":"g2","t":1.5,"v":0.01},{"p":"2AV","s":"g2","t":3,"v":-0.01},{"p":"2AV","s":"g2","t":5,"v":-0.02},{"p":"2AV","s":"g2","t":8,"v":-0.035},{"p":"2AV","s":"g2","t":12,"v":-0.02},{"p":"2AV","s":"g2","t":17,"v":-0.005},{"p":"2AV","s":"g2","t":22,"v":0.005},{"p":"2AV","s":"g2","t":28,"v":0.02},{"p":"2AV","s":"g2","t":33,"v":0.04},{"p":"2AV","s":"g2","t":38,"v":0.06},{"p":"2AV","s":"g2","t":42,"v":0.07},{"p":"2AV","s":"g2","t":45,"v":0.075},{"p":"2AV","s":"g2","t":49,"v":0.06},{"p":"2AV","s":"g2","t":54,"v":0.04},{"p":"2AV","s":"g2","t":59,"v":0.015},{"p":"2AV","s":"g2","t":63,"v":-0.005},{"p":"2AV","s":"g2","t":67,"v":-0.01},{"p":"2AV","s":"g2","t":71,"v":0},
{"p":"2AV","s":"g3","t":0,"v":0},{"p":"2AV","s":"g3","t":2,"v":-0.01},{"p":"2AV","s":"g3","t":4,"v":-0.02},{"p":"2AV","s":"g3","t":7,"v":-0.05},{"p":"2AV","s":"g3","t":10,"v":-0.065},{"p":"2AV","s":"g3","t":14,"v":-0.06},{"p":"2AV","s":"g3","t":19,"v":-0.05},{"p":"2AV","s":"g3","t":25,"v":-0.03},{"p":"2AV","s":"g3","t":30,"v":-0.005},{"p":"2AV","s":"g3","t":35,"v":0.025},{"p":"2AV","s":"g3","t":40,"v":0.045},{"p":"2AV","s":"g3","t":44,"v":0.05},{"p":"2AV","s":"g3","t":48,"v":0.045},{"p":"2AV","s":"g3","t":52,"v":0.03},{"p":"2AV","s":"g3","t":57,"v":0.01},{"p":"2AV","s":"g3","t":62,"v":-0.01},{"p":"2AV","s":"g3","t":66,"v":-0.02},{"p":"2AV","s":"g3","t":70,"v":-0.005},{"p":"2AV","s":"g3","t":73,"v":0},
{"p":"2AV","s":"g4","t":0,"v":0},{"p":"2AV","s":"g4","t":1.5,"v":-0.005},{"p":"2AV","s":"g4","t":3,"v":-0.015},{"p":"2AV","s":"g4","t":6,"v":-0.04},{"p":"2AV","s":"g4","t":9,"v":-0.055},{"p":"2AV","s":"g4","t":13,"v":-0.055},{"p":"2AV","s":"g4","t":18,"v":-0.04},{"p":"2AV","s":"g4","t":24,"v":-0.015},{"p":"2AV","s":"g4","t":29,"v":0.015},{"p":"2AV","s":"g4","t":34,"v":0.045},{"p":"2AV","s":"g4","t":38,"v":0.065},{"p":"2AV","s":"g4","t":42,"v":0.08},{"p":"2AV","s":"g4","t":46,"v":0.089},{"p":"2AV","s":"g4","t":50,"v":0.07},{"p":"2AV","s":"g4","t":55,"v":0.045},{"p":"2AV","s":"g4","t":60,"v":0.02},{"p":"2AV","s":"g4","t":64,"v":-0.005},{"p":"2AV","s":"g4","t":68,"v":-0.02},{"p":"2AV","s":"g4","t":72,"v":-0.005},{"p":"2AV","s":"g4","t":76,"v":0}
]
},
"spacing": 13,
"vconcat": [
{
"bounds": "flush",
"spacing": 225,
"hconcat": [
{
"width": 746, "height": 356,
"resolve": {"scale": {"x": "independent"}},
"layer": [
{
"data": {"name": "peakA"},
"encoding": {"x": {"field": "cond", "type": "nominal", "sort": ["Control","Audio","Visual","Audiovisual"], "scale": {"type": "band", "paddingInner": 0, "paddingOuter": 0}, "axis": {"title": null, "labelAngle": 0, "tickBand": "extent", "tickSize": 10, "labelPadding": 14, "labelFontSize": 33}}},
"layer": [
{"mark": {"type": "line", "color": "#000000", "strokeWidth": 3.5}, "encoding": {"y": {"field": "mean", "type": "quantitative", "title": "Newtons", "scale": {"domain": [0,180], "nice": false}, "axis": {"values": [0,30,60,90,120,150,180], "tickSize": 10, "labelPadding": 23, "labelFontSize": 31, "titleFontSize": 32, "titleAngle": -90, "titleAlign": "center", "titleBaseline": "middle", "titleX": -110, "titleY": 195}}, "detail": {"field": "group", "type": "nominal"}, "strokeDash": {"field": "group", "type": "nominal", "scale": {"domain": ["Able-bodied","Post-stroke"], "range": [[1,0],[9,5]]}, "legend": null}}},
{"mark": {"type": "rule", "color": "#000000", "strokeWidth": 2}, "encoding": {"y": {"field": "lo", "type": "quantitative", "title": "Newtons"}, "y2": {"field": "hi"}}},
{"mark": {"type": "tick", "color": "#000000", "thickness": 2, "size": 13}, "encoding": {"y": {"field": "lo", "type": "quantitative", "title": "Newtons"}}},
{"mark": {"type": "tick", "color": "#000000", "thickness": 2, "size": 13}, "encoding": {"y": {"field": "hi", "type": "quantitative", "title": "Newtons"}}},
{"mark": {"type": "point", "shape": "square", "size": 300, "filled": true, "stroke": "#000000", "strokeWidth": 3, "opacity": 1}, "encoding": {"y": {"field": "mean", "type": "quantitative", "title": "Newtons"}, "fill": {"field": "group", "type": "nominal", "scale": {"domain": ["Able-bodied","Post-stroke"], "range": ["#000000","#ffffff"]}, "legend": null}}}
]
},
{
"data": {"name": "annA"},
"encoding": {"x": {"field": "x", "type": "quantitative", "scale": {"domain": [0,4], "nice": false, "zero": false}, "axis": null}, "y": {"field": "y", "type": "quantitative", "title": "Newtons", "scale": {"domain": [0,180], "nice": false}}},
"layer": [
{"transform": [{"filter": "datum.kind == 'br'"}], "mark": {"type": "rule", "color": "#000000", "strokeWidth": 3.5, "strokeCap": "square"}, "encoding": {"x2": {"field": "x2"}, "y2": {"field": "y2"}}},
{"transform": [{"filter": "datum.kind == 'star'"}], "mark": {"type": "text", "fontSize": 38, "fontWeight": "bold", "align": "center", "baseline": "alphabetic"}, "encoding": {"text": {"field": "label"}}},
{"transform": [{"filter": "datum.kind == 'lab' || datum.kind == 'hash'"}], "mark": {"type": "text", "fontSize": 33, "align": "center", "baseline": "alphabetic"}, "encoding": {"text": {"field": "label"}}},
{"transform": [{"filter": "datum.kind == 'title'"}], "mark": {"type": "text", "fontSize": 37, "fontWeight": "bold", "align": "center", "baseline": "alphabetic"}, "encoding": {"text": {"field": "label"}}},
{"transform": [{"filter": "datum.kind == 'panel'"}], "mark": {"type": "text", "fontSize": 54, "fontWeight": "bold", "align": "left", "baseline": "alphabetic"}, "encoding": {"text": {"field": "label"}}}
]
}
]
},
{
"width": 748, "height": 370,
"resolve": {"scale": {"x": "independent"}},
"layer": [
{
"data": {"name": "peakB"},
"encoding": {"x": {"field": "cond", "type": "nominal", "sort": ["Control","Audio","Visual","Audiovisual"], "scale": {"type": "band", "paddingInner": 0, "paddingOuter": 0}, "axis": {"title": null, "labelAngle": 0, "tickBand": "extent", "tickSize": 10, "labelPadding": 14, "labelFontSize": 33}}},
"layer": [
{"mark": {"type": "line", "color": "#000000", "strokeWidth": 3.5}, "encoding": {"y": {"field": "mean", "type": "quantitative", "title": "Newtons", "scale": {"domain": [0,180], "nice": false}, "axis": {"values": [0,30,60,90,120,150,180], "tickSize": 10, "labelPadding": 23, "labelFontSize": 31, "titleFontSize": 32, "titleAngle": -90, "titleAlign": "center", "titleBaseline": "middle", "titleX": -110, "titleY": 160}}, "detail": {"field": "group", "type": "nominal"}, "strokeDash": {"field": "group", "type": "nominal", "scale": {"domain": ["Able-bodied","Post-stroke"], "range": [[1,0],[9,5]]}, "legend": null}}},
{"mark": {"type": "rule", "color": "#000000", "strokeWidth": 2}, "encoding": {"y": {"field": "lo", "type": "quantitative", "title": "Newtons"}, "y2": {"field": "hi"}}},
{"mark": {"type": "tick", "color": "#000000", "thickness": 2, "size": 13}, "encoding": {"y": {"field": "lo", "type": "quantitative", "title": "Newtons"}}},
{"mark": {"type": "tick", "color": "#000000", "thickness": 2, "size": 13}, "encoding": {"y": {"field": "hi", "type": "quantitative", "title": "Newtons"}}},
{"mark": {"type": "point", "shape": "square", "size": 300, "filled": true, "stroke": "#000000", "strokeWidth": 3, "opacity": 1}, "encoding": {"y": {"field": "mean", "type": "quantitative", "title": "Newtons"}, "fill": {"field": "group", "type": "nominal", "scale": {"domain": ["Able-bodied","Post-stroke"], "range": ["#000000","#ffffff"]}, "legend": null}}}
]
},
{
"data": {"name": "annB"},
"encoding": {"x": {"field": "x", "type": "quantitative", "scale": {"domain": [0,4], "nice": false, "zero": false}, "axis": null}, "y": {"field": "y", "type": "quantitative", "title": "Newtons", "scale": {"domain": [0,180], "nice": false}}},
"layer": [
{"transform": [{"filter": "datum.kind == 'br'"}], "mark": {"type": "rule", "color": "#000000", "strokeWidth": 3.5, "strokeCap": "square"}, "encoding": {"x2": {"field": "x2"}, "y2": {"field": "y2"}}},
{"transform": [{"filter": "datum.kind == 'lab' || datum.kind == 'hash'"}], "mark": {"type": "text", "fontSize": 33, "align": "center", "baseline": "alphabetic"}, "encoding": {"text": {"field": "label"}}},
{"transform": [{"filter": "datum.kind == 'title'"}], "mark": {"type": "text", "fontSize": 37, "fontWeight": "bold", "align": "center", "baseline": "alphabetic"}, "encoding": {"text": {"field": "label"}}},
{"transform": [{"filter": "datum.kind == 'panel'"}], "mark": {"type": "text", "fontSize": 54, "fontWeight": "bold", "align": "left", "baseline": "alphabetic"}, "encoding": {"text": {"field": "label"}}}
]
}
]
}
]
},
{
"bounds": "flush",
"columns": 5,
"align": "each",
"spacing": {"row": 56, "column": 10},
"concat": [
{"width": 286, "height": 188, "data": {"values": [{"t": -0.594, "v": 1.378, "lab": "c"}]}, "mark": {"type": "text", "fontSize": 54, "fontWeight": "bold", "align": "left", "baseline": "alphabetic"}, "encoding": {"x": {"field": "t", "type": "quantitative", "scale": {"domain": [0,1], "nice": false, "zero": false}, "axis": null}, "y": {"field": "v", "type": "quantitative", "scale": {"domain": [0,1], "nice": false, "zero": false}, "axis": null}, "text": {"field": "lab"}}},
{
"width": 306, "height": 188,
"title": {"text": "Control", "offset": 5, "dx": -21},
"layer": [
{"data": {"values": [{"z": 0}]}, "mark": {"type": "rule", "color": "#868686", "strokeWidth": 1.5}, "encoding": {"y": {"field": "z", "type": "quantitative", "scale": {"domain": [-0.25,0.25], "nice": false}, "axis": {"values": [-0.25,0,0.25], "labelExpr": "datum.value == 0 ? '0' : (datum.value < 0 ? '-' : '') + format(abs(datum.value), '.2f')", "tickSize": 8, "labelPadding": 6, "labelFontSize": 31, "title": ["Stroke Subject 1","Paretic AGRF","(normalized to body wt)"], "titleAngle": 0, "titleAlign": "center", "titleBaseline": "middle", "titleX": -239, "titleY": 83, "titleFontSize": 33, "titleLineHeight": 40}}}},
{"data": {"name": "traces"}, "transform": [{"filter": "datum.p == '1C' && datum.s != 'm' && datum.s != 'd'"}], "mark": {"type": "line", "color": "#a8a8a8", "strokeWidth": 3}, "encoding": {"x": {"field": "t", "type": "quantitative", "scale": {"domain": [0,110.1], "nice": false, "zero": false}, "axis": null}, "y": {"field": "v", "type": "quantitative", "scale": {"domain": [-0.25,0.25], "nice": false}}, "detail": {"field": "s", "type": "nominal"}}},
{"data": {"name": "traces"}, "transform": [{"filter": "datum.p == '1C' && datum.s == 'm'"}], "mark": {"type": "line", "color": "#000000", "strokeWidth": 6}, "encoding": {"x": {"field": "t", "type": "quantitative", "scale": {"domain": [0,110.1], "nice": false, "zero": false}, "axis": null}, "y": {"field": "v", "type": "quantitative", "scale": {"domain": [-0.25,0.25], "nice": false}}}}
]
},
{
"width": 374, "height": 188,
"title": {"text": "Audio", "offset": 20, "dx": -2},
"layer": [
{"data": {"values": [{"z": 0}]}, "mark": {"type": "rule", "color": "#868686", "strokeWidth": 1.5}, "encoding": {"y": {"field": "z", "type": "quantitative", "scale": {"domain": [-0.25,0.25], "nice": false}, "axis": {"values": [-0.25,0,0.25], "labels": false, "tickSize": 8, "title": null}}}},
{"data": {"name": "traces"}, "transform": [{"filter": "datum.p == '1A' && datum.s != 'm' && datum.s != 'd'"}], "mark": {"type": "line", "color": "#a8a8a8", "strokeWidth": 3}, "encoding": {"x": {"field": "t", "type": "quantitative", "scale": {"domain": [0,110], "nice": false, "zero": false}, "axis": null}, "y": {"field": "v", "type": "quantitative", "scale": {"domain": [-0.25,0.25], "nice": false}}, "detail": {"field": "s", "type": "nominal"}}},
{"data": {"name": "traces"}, "transform": [{"filter": "datum.p == '1A' && datum.s == 'd'"}], "mark": {"type": "line", "color": "#000000", "strokeWidth": 5, "strokeDash": [12,7]}, "encoding": {"x": {"field": "t", "type": "quantitative", "scale": {"domain": [0,110], "nice": false, "zero": false}, "axis": null}, "y": {"field": "v", "type": "quantitative", "scale": {"domain": [-0.25,0.25], "nice": false}}}},
{"data": {"name": "traces"}, "transform": [{"filter": "datum.p == '1A' && datum.s == 'm'"}], "mark": {"type": "line", "color": "#000000", "strokeWidth": 6}, "encoding": {"x": {"field": "t", "type": "quantitative", "scale": {"domain": [0,110], "nice": false, "zero": false}, "axis": null}, "y": {"field": "v", "type": "quantitative", "scale": {"domain": [-0.25,0.25], "nice": false}}}}
]
},
{
"width": 356, "height": 188,
"title": {"text": "Visual", "offset": 20, "dx": -9},
"layer": [
{"data": {"values": [{"z": 0}]}, "mark": {"type": "rule", "color": "#868686", "strokeWidth": 1.5}, "encoding": {"y": {"field": "z", "type": "quantitative", "scale": {"domain": [-0.25,0.25], "nice": false}, "axis": {"values": [-0.25,0,0.25], "labels": false, "tickSize": 8, "title": null}}}},
{"data": {"name": "traces"}, "transform": [{"filter": "datum.p == '1V' && datum.s != 'm' && datum.s != 'd'"}], "mark": {"type": "line", "color": "#a8a8a8", "strokeWidth": 3}, "encoding": {"x": {"field": "t", "type": "quantitative", "scale": {"domain": [0,100.8], "nice": false, "zero": false}, "axis": null}, "y": {"field": "v", "type": "quantitative", "scale": {"domain": [-0.25,0.25], "nice": false}}, "detail": {"field": "s", "type": "nominal"}}},
{"data": {"name": "traces"}, "transform": [{"filter": "datum.p == '1V' && datum.s == 'd'"}], "mark": {"type": "line", "color": "#000000", "strokeWidth": 5, "strokeDash": [12,7]}, "encoding": {"x": {"field": "t", "type": "quantitative", "scale": {"domain": [0,100.8], "nice": false, "zero": false}, "axis": null}, "y": {"field": "v", "type": "quantitative", "scale": {"domain": [-0.25,0.25], "nice": false}}}},
{"data": {"name": "traces"}, "transform": [{"filter": "datum.p == '1V' && datum.s == 'm'"}], "mark": {"type": "line", "color": "#000000", "strokeWidth": 6}, "encoding": {"x": {"field": "t", "type": "quantitative", "scale": {"domain": [0,100.8], "nice": false, "zero": false}, "axis": null}, "y": {"field": "v", "type": "quantitative", "scale": {"domain": [-0.25,0.25], "nice": false}}}}
]
},
{
"width": 357, "height": 188,
"title": {"text": "Audiovisual", "offset": 20, "dx": 12},
"layer": [
{"data": {"values": [{"z": 0}]}, "mark": {"type": "rule", "color": "#868686", "strokeWidth": 1.5}, "encoding": {"y": {"field": "z", "type": "quantitative", "scale": {"domain": [-0.25,0.25], "nice": false}, "axis": {"values": [-0.25,0,0.25], "labels": false, "tickSize": 8, "title": null}}}},
{"data": {"name": "traces"}, "transform": [{"filter": "datum.p == '1AV' && datum.s != 'm' && datum.s != 'd'"}], "mark": {"type": "line", "color": "#a8a8a8", "strokeWidth": 3}, "encoding": {"x": {"field": "t", "type": "quantitative", "scale": {"domain": [0,100.6], "nice": false, "zero": false}, "axis": null}, "y": {"field": "v", "type": "quantitative", "scale": {"domain": [-0.25,0.25], "nice": false}}, "detail": {"field": "s", "type": "nominal"}}},
{"data": {"name": "traces"}, "transform": [{"filter": "datum.p == '1AV' && datum.s == 'd'"}], "mark": {"type": "line", "color": "#000000", "strokeWidth": 5, "strokeDash": [12,7]}, "encoding": {"x": {"field": "t", "type": "quantitative", "scale": {"domain": [0,100.6], "nice": false, "zero": false}, "axis": null}, "y": {"field": "v", "type": "quantitative", "scale": {"domain": [-0.25,0.25], "nice": false}}}},
{"data": {"name": "traces"}, "transform": [{"filter": "datum.p == '1AV' && datum.s == 'm'"}], "mark": {"type": "line", "color": "#000000", "strokeWidth": 6}, "encoding": {"x": {"field": "t", "type": "quantitative", "scale": {"domain": [0,100.6], "nice": false, "zero": false}, "axis": null}, "y": {"field": "v", "type": "quantitative", "scale": {"domain": [-0.25,0.25], "nice": false}}}}
]
},
{"width": 286, "height": 182, "data": {"values": []}, "mark": "point"},
{
"width": 306, "height": 182,
"layer": [
{"data": {"values": [{"z": 0}]}, "mark": {"type": "rule", "color": "#868686", "strokeWidth": 1.5}, "encoding": {"y": {"field": "z", "type": "quantitative", "scale": {"domain": [-0.12,0.12], "nice": false}, "axis": {"values": [-0.12,0,0.12], "labelExpr": "datum.value == 0 ? '0' : (datum.value < 0 ? '-' : '') + format(abs(datum.value), '.2f')", "tickSize": 8, "labelPadding": 6, "labelFontSize": 31, "title": ["Stroke Subject 2","Paretic AGRF","normalized to body weight)"], "titleAngle": 0, "titleAlign": "center", "titleBaseline": "middle", "titleX": -257, "titleY": 66, "titleFontSize": 33, "titleLineHeight": 40}}}},
{"data": {"name": "traces"}, "transform": [{"filter": "datum.p == '2C' && datum.s != 'm' && datum.s != 'd'"}], "mark": {"type": "line", "color": "#a8a8a8", "strokeWidth": 3}, "encoding": {"x": {"field": "t", "type": "quantitative", "scale": {"domain": [0,110.1], "nice": false, "zero": false}, "axis": null}, "y": {"field": "v", "type": "quantitative", "scale": {"domain": [-0.12,0.12], "nice": false}}, "detail": {"field": "s", "type": "nominal"}}},
{"data": {"name": "traces"}, "transform": [{"filter": "datum.p == '2C' && datum.s == 'm'"}], "mark": {"type": "line", "color": "#000000", "strokeWidth": 6}, "encoding": {"x": {"field": "t", "type": "quantitative", "scale": {"domain": [0,110.1], "nice": false, "zero": false}, "axis": null}, "y": {"field": "v", "type": "quantitative", "scale": {"domain": [-0.12,0.12], "nice": false}}}}
]
},
{
"width": 374, "height": 182,
"layer": [
{"data": {"values": [{"z": 0}]}, "mark": {"type": "rule", "color": "#868686", "strokeWidth": 1.5}, "encoding": {"y": {"field": "z", "type": "quantitative", "scale": {"domain": [-0.12,0.12], "nice": false}, "axis": {"values": [-0.12,0,0.12], "labels": false, "tickSize": 8, "title": null}}}},
{"data": {"name": "traces"}, "transform": [{"filter": "datum.p == '2A' && datum.s != 'm' && datum.s != 'd'"}], "mark": {"type": "line", "color": "#a8a8a8", "strokeWidth": 3}, "encoding": {"x": {"field": "t", "type": "quantitative", "scale": {"domain": [0,110], "nice": false, "zero": false}, "axis": null}, "y": {"field": "v", "type": "quantitative", "scale": {"domain": [-0.12,0.12], "nice": false}}, "detail": {"field": "s", "type": "nominal"}}},
{"data": {"name": "traces"}, "transform": [{"filter": "datum.p == '2A' && datum.s == 'd'"}], "mark": {"type": "line", "color": "#000000", "strokeWidth": 5, "strokeDash": [12,7]}, "encoding": {"x": {"field": "t", "type": "quantitative", "scale": {"domain": [0,110], "nice": false, "zero": false}, "axis": null}, "y": {"field": "v", "type": "quantitative", "scale": {"domain": [-0.12,0.12], "nice": false}}}},
{"data": {"name": "traces"}, "transform": [{"filter": "datum.p == '2A' && datum.s == 'm'"}], "mark": {"type": "line", "color": "#000000", "strokeWidth": 6}, "encoding": {"x": {"field": "t", "type": "quantitative", "scale": {"domain": [0,110], "nice": false, "zero": false}, "axis": null}, "y": {"field": "v", "type": "quantitative", "scale": {"domain": [-0.12,0.12], "nice": false}}}}
]
},
{
"width": 356, "height": 182,
"layer": [
{"data": {"values": [{"z": 0}]}, "mark": {"type": "rule", "color": "#868686", "strokeWidth": 1.5}, "encoding": {"y": {"field": "z", "type": "quantitative", "scale": {"domain": [-0.12,0.12], "nice": false}, "axis": {"values": [-0.12,0,0.12], "labels": false, "tickSize": 8, "title": null}}}},
{"data": {"name": "traces"}, "transform": [{"filter": "datum.p == '2V' && datum.s != 'm' && datum.s != 'd'"}], "mark": {"type": "line", "color": "#a8a8a8", "strokeWidth": 3}, "encoding": {"x": {"field": "t", "type": "quantitative", "scale": {"domain": [0,106.9], "nice": false, "zero": false}, "axis": null}, "y": {"field": "v", "type": "quantitative", "scale": {"domain": [-0.12,0.12], "nice": false}}, "detail": {"field": "s", "type": "nominal"}}},
{"data": {"name": "traces"}, "transform": [{"filter": "datum.p == '2V' && datum.s == 'd'"}], "mark": {"type": "line", "color": "#000000", "strokeWidth": 5, "strokeDash": [12,7]}, "encoding": {"x": {"field": "t", "type": "quantitative", "scale": {"domain": [0,106.9], "nice": false, "zero": false}, "axis": null}, "y": {"field": "v", "type": "quantitative", "scale": {"domain": [-0.12,0.12], "nice": false}}}},
{"data": {"name": "traces"}, "transform": [{"filter": "datum.p == '2V' && datum.s == 'm'"}], "mark": {"type": "line", "color": "#000000", "strokeWidth": 6}, "encoding": {"x": {"field": "t", "type": "quantitative", "scale": {"domain": [0,106.9], "nice": false, "zero": false}, "axis": null}, "y": {"field": "v", "type": "quantitative", "scale": {"domain": [-0.12,0.12], "nice": false}}}}
]
},
{
"width": 357, "height": 182,
"layer": [
{"data": {"values": [{"z": 0}]}, "mark": {"type": "rule", "color": "#868686", "strokeWidth": 1.5}, "encoding": {"y": {"field": "z", "type": "quantitative", "scale": {"domain": [-0.12,0.12], "nice": false}, "axis": {"values": [-0.12,0,0.12], "labels": false, "tickSize": 8, "title": null}}}},
{"data": {"name": "traces"}, "transform": [{"filter": "datum.p == '2AV' && datum.s != 'm' && datum.s != 'd'"}], "mark": {"type": "line", "color": "#a8a8a8", "strokeWidth": 3}, "encoding": {"x": {"field": "t", "type": "quantitative", "scale": {"domain": [0,105.9], "nice": false, "zero": false}, "axis": null}, "y": {"field": "v", "type": "quantitative", "scale": {"domain": [-0.12,0.12], "nice": false}}, "detail": {"field": "s", "type": "nominal"}}},
{"data": {"name": "traces"}, "transform": [{"filter": "datum.p == '2AV' && datum.s == 'd'"}], "mark": {"type": "line", "color": "#000000", "strokeWidth": 5, "strokeDash": [12,7]}, "encoding": {"x": {"field": "t", "type": "quantitative", "scale": {"domain": [0,105.9], "nice": false, "zero": false}, "axis": null}, "y": {"field": "v", "type": "quantitative", "scale": {"domain": [-0.12,0.12], "nice": false}}}},
{"data": {"name": "traces"}, "transform": [{"filter": "datum.p == '2AV' && datum.s == 'm'"}], "mark": {"type": "line", "color": "#000000", "strokeWidth": 6}, "encoding": {"x": {"field": "t", "type": "quantitative", "scale": {"domain": [0,105.9], "nice": false, "zero": false}, "axis": null}, "y": {"field": "v", "type": "quantitative", "scale": {"domain": [-0.12,0.12], "nice": false}}}}
]
}
]
}
],
"config": {
"view": {"stroke": null},
"font": "Liberation Sans",
"axis": {"domainColor": "#868686", "tickColor": "#868686", "domainWidth": 1.5, "tickWidth": 1.5, "labelColor": "#000000", "titleColor": "#000000", "grid": false, "labelFont": "Liberation Sans", "titleFont": "Liberation Sans", "titleFontWeight": "normal"},
"title": {"font": "Liberation Sans", "fontSize": 37, "fontWeight": "bold", "color": "#000000", "anchor": "middle", "frame": "group"},
"text": {"font": "Liberation Sans", "color": "#000000"}
}
}
